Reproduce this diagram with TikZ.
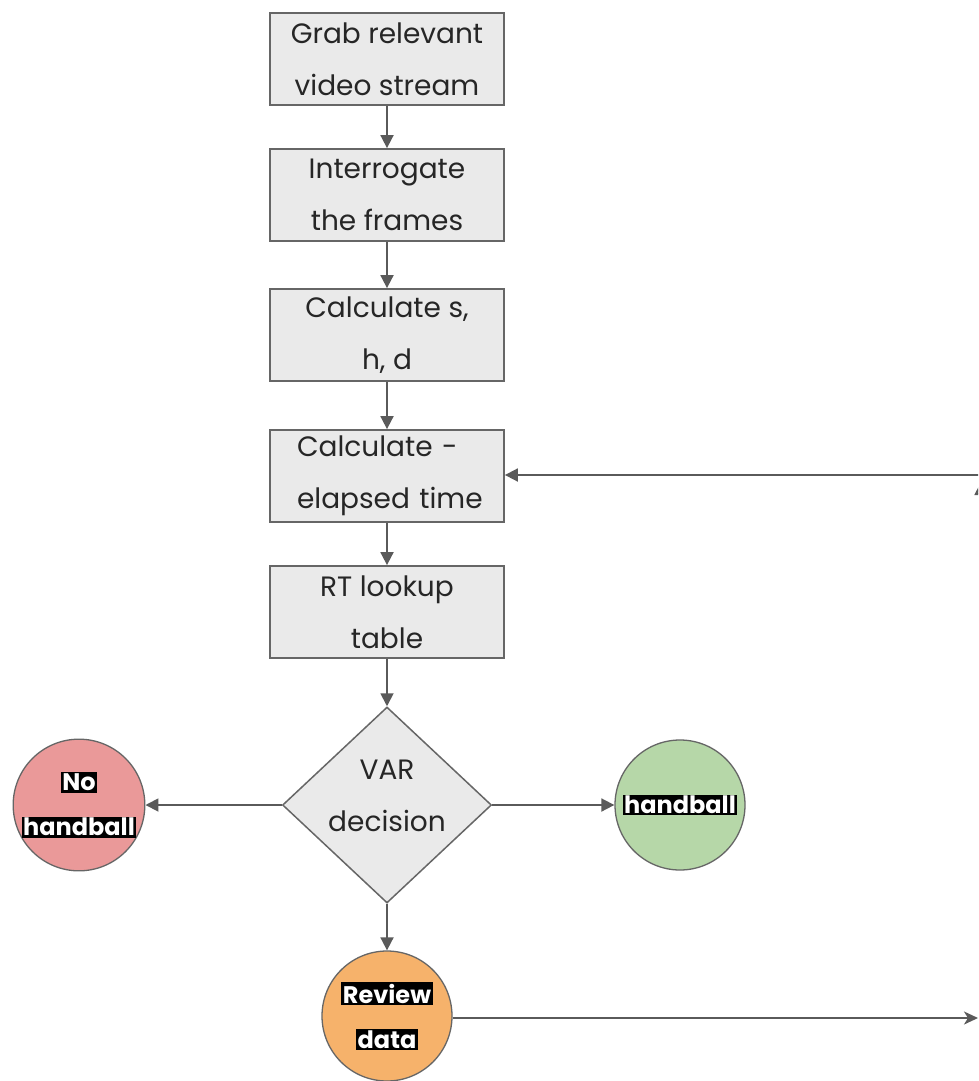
\documentclass[tikz,border=0pt]{standalone}
\usepackage{fontspec}
\setmainfont{Poppins}
\usetikzlibrary{shapes.geometric,arrows.meta}
\definecolor{boxfill}{HTML}{EAEAEA}
\definecolor{edge}{HTML}{666666}
\definecolor{arrowc}{HTML}{5A5A5A}
\definecolor{redc}{HTML}{EA9999}
\definecolor{greenc}{HTML}{B6D7A8}
\definecolor{orangec}{HTML}{F6B26B}
\definecolor{txtc}{HTML}{262626}
\newcommand{\blk}[1]{{\setlength{\fboxsep}{1.5pt}\colorbox{black}{\textcolor{white}{\bfseries #1}}}}
\tikzset{
  stepbox/.style={draw=edge, fill=boxfill, line width=1.8pt, minimum width=234pt, minimum height=92pt,
    inner sep=0pt, align=center, text=txtc, font=\fontsize{28}{52}\selectfont},
  dia/.style={draw=edge, fill=boxfill, line width=1.5pt, diamond, minimum width=209pt, minimum height=196pt, inner sep=0pt},
  txt/.style={align=center, text=txtc, font=\fontsize{28}{52}\selectfont, inner sep=0pt},
  circ/.style={draw=edge, line width=1.3pt, circle, minimum size=130pt, inner sep=0pt, align=center,
    font=\fontsize{24}{45}\selectfont},
  arr/.style={draw=arrowc, line width=1.8pt, -{Triangle[length=13pt,width=13pt]}},
  arrs/.style={draw=arrowc, line width=1.8pt, -{Stealth[length=14pt,width=13pt,inset=4pt]}},
}
\begin{document}
\begin{tikzpicture}[x=1pt,y=-1pt]
\useasboundingbox (0,0) rectangle (978,1081);
\clip (0,0) rectangle (978,1081);
\fill[white] (0,0) rectangle (978,1081);
\node[stepbox] (b1) at (387,59) {Grab relevant\\video stream};
\node[stepbox] (b2) at (387,195) {Interrogate\\the frames};
\node[stepbox] (b3) at (387,335) {Calculate s,\\h, d};
\node[stepbox, align=left, text width=212pt] (b4) at (387,476) {\hspace*{16pt}Calculate -\\\hspace*{16pt}elapsed time};
\node[stepbox] (b5) at (387,612) {RT lookup\\table};
\node[dia] (var) at (387,805) {};
\node[txt] (vart) at (387,796) {VAR\\decision};
\node[circ, fill=redc] (no) at (79,805) {\blk{No}\\\blk{handball}};
\node[circ, fill=greenc] (yes) at (680,805) {\blk{handball}};
\node[circ, fill=orangec] (rev) at (387,1016) {\blk{Review}\\\blk{data}};
\coordinate (rin) at (985,475);
\coordinate (rout) at (978,1018);
\coordinate (upbase) at (981,570);
\coordinate (uptip) at (981,482);
\draw[arr] (b1) -- (b2);
\draw[arr] (b2) -- (b3);
\draw[arr] (b3) -- (b4);
\draw[arr] (b4) -- (b5);
\draw[arr] (b5) -- (var);
\draw[arr] (rin) -- (b4.east |- rin);
\draw[arr] (var) -- (no);
\draw[arr] (var) -- (yes);
\draw[arr] (var) -- (rev);
\draw[arrs] (rev.east |- rout) -- (rout);
\draw[arr] (upbase) -- (uptip);
\end{tikzpicture}
\end{document}
